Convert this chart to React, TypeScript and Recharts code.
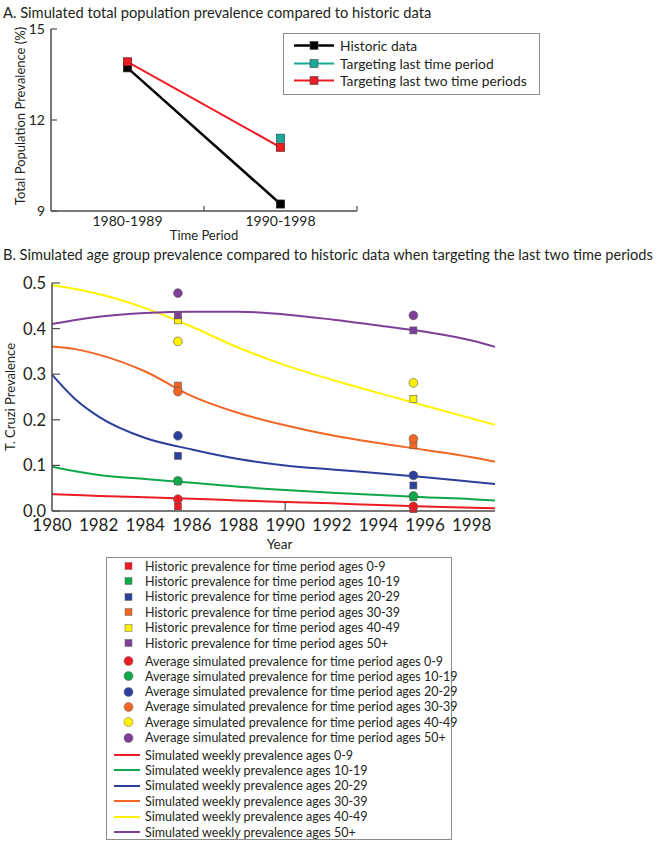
import { ComposedChart, LineChart, Line, Scatter, XAxis, YAxis } from "recharts";

const FONT = "Lato, 'Noto Sans', sans-serif";
const TEXT = "#231f20";
const AXIS = "#4d4d4d";

// panel A
const TOP_PERIODS = ["1980-1989", "1990-1998"];
const TOP_HISTORIC = [13.72, 9.23];
const TOP_LAST_ONE = [null, 11.4];
const TOP_LAST_TWO = [13.92, 11.1];
const TOP_Y_TICKS = [9, 12, 15];
const TOP_X_TICKS = [0.5, 1, 1.5, 2];

// panel B
const AGE_GROUPS = ["0-9", "10-19", "20-29", "30-39", "40-49", "50+"];
const AGE_COLORS = ["#ed1c24", "#0fa84a", "#2b3f9b", "#f26522", "#fff200", "#7d3f98"];
const PERIOD_YEARS = [1985.4, 1995.5];
const HISTORIC_PREV = [
  [0.01, 0.004],
  [0.065, 0.03],
  [0.121, 0.056],
  [0.275, 0.144],
  [0.418, 0.246],
  [0.429, 0.396],
];
const AVG_SIM_PREV = [
  [0.026, 0.01],
  [0.066, 0.033],
  [0.165, 0.078],
  [0.262, 0.158],
  [0.372, 0.281],
  [0.478, 0.429],
];
const WEEKLY_YEARS = [1980, 1981, 1982, 1984, 1986, 1988, 1990, 1992, 1994, 1996, 1998, 1999];
const WEEKLY_0_9 = [0.037, 0.035, 0.033, 0.03, 0.027, 0.023, 0.02, 0.017, 0.013, 0.01, 0.007, 0.006];
const WEEKLY_10_19 = [0.097, 0.087, 0.079, 0.07, 0.062, 0.053, 0.046, 0.04, 0.035, 0.03, 0.026, 0.023];
const WEEKLY_20_29 = [0.299, 0.245, 0.207, 0.16, 0.135, 0.114, 0.1, 0.091, 0.083, 0.074, 0.064, 0.059];
const WEEKLY_30_39 = [0.361, 0.355, 0.343, 0.306, 0.252, 0.215, 0.188, 0.166, 0.149, 0.134, 0.118, 0.108];
const WEEKLY_40_49 = [0.495, 0.487, 0.476, 0.445, 0.404, 0.358, 0.32, 0.288, 0.259, 0.231, 0.203, 0.189];
const WEEKLY_50_PLUS = [0.41, 0.419, 0.426, 0.434, 0.437, 0.437, 0.431, 0.42, 0.407, 0.393, 0.374, 0.36];
const WEEKLY = [WEEKLY_0_9, WEEKLY_10_19, WEEKLY_20_29, WEEKLY_30_39, WEEKLY_40_49, WEEKLY_50_PLUS];
const B_Y_TICKS = [0, 0.1, 0.2, 0.3, 0.4, 0.5];
const B_X_TICKS = [1980, 1982, 1984, 1986, 1988, 1990, 1992, 1994, 1996, 1998];
const B_X_MARKED = [1990];

const topRows = TOP_PERIODS.map((p, i) => ({
  x: i + 0.5,
  period: p,
  historic: TOP_HISTORIC[i],
  lastOne: TOP_LAST_ONE[i],
  lastTwo: TOP_LAST_TWO[i],
}));

function squareDot(fill: string, size: number, stroke: string) {
  return (props: any) => {
    const { cx, cy, index } = props;
    if (cx == null || cy == null || Number.isNaN(cy)) return <g key={`n-${index}`} />;
    return (
      <rect
        key={`d-${index}`}
        x={cx - size / 2}
        y={cy - size / 2}
        width={size}
        height={size}
        fill={fill}
        stroke={stroke}
        strokeWidth={0.8}
      />
    );
  };
}

function TopXTick({ x, y, payload }: any) {
  const v = payload.value;
  if (Number.isInteger(v)) {
    return <line x1={x} x2={x} y1={y} y2={y - 5} stroke={AXIS} strokeWidth={1.2} />;
  }
  return (
    <text x={x} y={y + 15} textAnchor="middle" fontSize={14} fill={TEXT} fontFamily={FONT}>
      {TOP_PERIODS[Math.floor(v)]}
    </text>
  );
}

function TopYTick({ x, y, payload }: any) {
  return (
    <g>
      <line x1={x} x2={x + 6} y1={y} y2={y} stroke={AXIS} strokeWidth={1.2} />
      <text x={x - 6} y={y + 5} textAnchor="end" fontSize={14} fill={TEXT} fontFamily={FONT}>
        {payload.value}
      </text>
    </g>
  );
}

function BXTick({ x, y, payload }: any) {
  return (
    <g>
      {B_X_MARKED.includes(payload.value) && (
        <line x1={x} x2={x} y1={y} y2={y - 9} stroke={AXIS} strokeWidth={1.2} />
      )}
      <text x={x} y={y + 20} textAnchor="middle" fontSize={17} fill={TEXT} fontFamily={FONT}>
        {payload.value}
      </text>
    </g>
  );
}

function BYTick({ x, y, payload }: any) {
  return (
    <g>
      <line x1={x} x2={x + 8} y1={y} y2={y} stroke={AXIS} strokeWidth={1.2} />
      <text x={x - 6} y={y + 6} textAnchor="end" fontSize={16.5} fill={TEXT} fontFamily={FONT}>
        {payload.value.toFixed(1)}
      </text>
    </g>
  );
}

const squareShape = (fill: string) => (props: any) => (
  <rect x={props.cx - 3.5} y={props.cy - 3.5} width={7} height={7} fill={fill} stroke="#555" strokeWidth={0.6} />
);
const circleShape = (fill: string) => (props: any) => (
  <circle cx={props.cx} cy={props.cy} r={4.4} fill={fill} stroke="#555" strokeWidth={0.6} />
);

function TopLegend() {
  const items = [
    { label: "Historic data", color: "#000", marker: "#000", width: 2.5 },
    { label: "Targeting last time period", color: "#1aa89a", marker: "#1aa89a", width: 2 },
    { label: "Targeting last two time periods", color: "#ed1c24", marker: "#ed1c24", width: 2 },
  ];
  return (
    <div
      style={{
        position: "absolute",
        left: 283,
        top: 33,
        width: 255,
        height: 60,
        border: "1px solid #8c8c8c",
        background: "#fff",
      }}
    >
      {items.map((it, i) => (
        <div key={it.label} style={{ position: "absolute", left: 0, top: 3 + i * 17.5, height: 17, display: "flex", alignItems: "center" }}>
          <svg width={56} height={17}>
            <line x1={10} x2={50} y1={8.5} y2={8.5} stroke={it.color} strokeWidth={it.width} />
            <rect x={26} y={4.5} width={8} height={8} fill={it.marker} stroke="#444" strokeWidth={0.6} />
          </svg>
          <span style={{ fontSize: 13.8, color: TEXT, fontFamily: FONT, whiteSpace: "nowrap" }}>{it.label}</span>
        </div>
      ))}
    </div>
  );
}

function BottomLegend() {
  const rows: { kind: string; color: string; label: string; top: number }[] = [];
  AGE_GROUPS.forEach((g, i) =>
    rows.push({ kind: "square", color: AGE_COLORS[i], label: `Historic prevalence for time period ages ${g}`, top: i * 15.45 })
  );
  AGE_GROUPS.forEach((g, i) =>
    rows.push({ kind: "circle", color: AGE_COLORS[i], label: `Average simulated prevalence for time period ages ${g}`, top: 95 + i * 15.3 })
  );
  AGE_GROUPS.forEach((g, i) =>
    rows.push({ kind: "line", color: AGE_COLORS[i], label: `Simulated weekly prevalence ages ${g}`, top: 189 + i * 15.4 })
  );
  return (
    <div
      style={{
        position: "absolute",
        left: 106,
        top: 557,
        width: 344,
        height: 281,
        border: "1px solid #8c8c8c",
        background: "#fff",
      }}
    >
      {rows.map((r) => (
        <div key={r.label} style={{ position: "absolute", left: 0, top: r.top, height: 16, display: "flex", alignItems: "center" }}>
          <svg width={38} height={16}>
            {r.kind === "square" && <rect x={18} y={4.5} width={7} height={7} fill={r.color} stroke="#666" strokeWidth={0.5} />}
            {r.kind === "circle" && <circle cx={21.5} cy={8} r={4.5} fill={r.color} stroke="#666" strokeWidth={0.5} />}
            {r.kind === "line" && <line x1={7} x2={33} y1={8} y2={8} stroke={r.color} strokeWidth={2} />}
          </svg>
          <span style={{ fontSize: 12.5, color: TEXT, fontFamily: FONT, whiteSpace: "nowrap" }}>{r.label}</span>
        </div>
      ))}
    </div>
  );
}

export default function App() {
  return (
    <div style={{ position: "absolute", left: 0, top: 0, width: 659, height: 843, background: "#fff", fontFamily: FONT }}>
      <div style={{ position: "absolute", left: 3, top: 3, fontSize: 14.7, color: TEXT, whiteSpace: "nowrap" }}>
        A. Simulated total population prevalence compared to historic data
      </div>

      <div style={{ position: "absolute", left: 0, top: 0 }}>
        <LineChart width={659} height={245} data={topRows} margin={{ top: 29, right: 302, bottom: 0, left: 0 }}>
          <XAxis
            dataKey="x"
            type="number"
            domain={[0, 2]}
            ticks={TOP_X_TICKS}
            tick={<TopXTick />}
            tickLine={false}
            tickSize={0}
            tickMargin={0}
            height={34}
            stroke={AXIS}
            strokeWidth={1.5}
            label={{
              content: ({ viewBox }: any) => (
                <text x={viewBox.x + viewBox.width / 2} y={viewBox.y + 29} textAnchor="middle" fontSize={13} fill={TEXT} fontFamily={FONT}>
                  Time Period
                </text>
              ),
            }}
          />
          <YAxis
            type="number"
            domain={[9, 15]}
            ticks={TOP_Y_TICKS}
            tick={<TopYTick />}
            tickLine={false}
            tickSize={0}
            tickMargin={0}
            width={51}
            stroke={AXIS}
            strokeWidth={1.5}
            label={{
              content: ({ viewBox }: any) => {
                const cy = viewBox.y + viewBox.height / 2 - 4;
                return (
                  <text x={25} y={cy} transform={`rotate(-90 25 ${cy})`} textAnchor="middle" fontSize={13} fill={TEXT} fontFamily={FONT}>
                    Total Population Prevalence (%)
                  </text>
                );
              },
            }}
          />
          <Line dataKey="historic" stroke="#000" strokeWidth={2.5} dot={squareDot("#000", 8, "#222")} isAnimationActive={false} />
          <Line dataKey="lastTwo" stroke="#ed1c24" strokeWidth={2} dot={squareDot("#ed1c24", 8, "#7a2020")} isAnimationActive={false} />
          <Line dataKey="lastOne" stroke="#1aa89a" strokeWidth={2} dot={squareDot("#1aa89a", 8, "#2c5f5a")} isAnimationActive={false} />
        </LineChart>
      </div>
      <TopLegend />

      <div style={{ position: "absolute", left: 3, top: 246, fontSize: 14.6, color: TEXT, whiteSpace: "nowrap" }}>
        B. Simulated age group prevalence compared to historic data when targeting the last two time periods
      </div>

      <div style={{ position: "absolute", left: 0, top: 265 }}>
        <ComposedChart width={659} height={290} margin={{ top: 18, right: 164, bottom: 0, left: 0 }}>
          <XAxis
            dataKey="year"
            type="number"
            domain={[1980, 1999]}
            ticks={B_X_TICKS}
            tick={<BXTick />}
            tickLine={false}
            tickSize={0}
            tickMargin={0}
            height={44}
            stroke={AXIS}
            strokeWidth={1.5}
            allowDuplicatedCategory={false}
            label={{
              content: ({ viewBox }: any) => (
                <text x={viewBox.x + viewBox.width / 2 + 6} y={viewBox.y + 38} textAnchor="middle" fontSize={13.5} fill={TEXT} fontFamily={FONT}>
                  Year
                </text>
              ),
            }}
          />
          <YAxis
            dataKey="v"
            type="number"
            domain={[0, 0.5]}
            ticks={B_Y_TICKS}
            tick={<BYTick />}
            tickLine={false}
            tickSize={0}
            tickMargin={0}
            width={52}
            stroke={AXIS}
            strokeWidth={1.5}
            label={{
              content: ({ viewBox }: any) => {
                const cy = viewBox.y + viewBox.height / 2;
                return (
                  <text x={15} y={cy} transform={`rotate(-90 15 ${cy})`} textAnchor="middle" fontSize={13} fill={TEXT} fontFamily={FONT}>
                    T. Cruzi Prevalence
                  </text>
                );
              },
            }}
          />
          {WEEKLY.map((vals, i) => (
            <Line
              key={`w-${i}`}
              data={WEEKLY_YEARS.map((yr, j) => ({ year: yr, v: vals[j] }))}
              dataKey="v"
              type="monotone"
              stroke={AGE_COLORS[i]}
              strokeWidth={2}
              dot={false}
              isAnimationActive={false}
            />
          ))}
          {HISTORIC_PREV.map((vals, i) => (
            <Scatter
              key={`h-${i}`}
              data={PERIOD_YEARS.map((yr, j) => ({ year: yr, v: vals[j] }))}
              dataKey="v"
              shape={squareShape(AGE_COLORS[i])}
              isAnimationActive={false}
            />
          ))}
          {AVG_SIM_PREV.map((vals, i) => (
            <Scatter
              key={`a-${i}`}
              data={PERIOD_YEARS.map((yr, j) => ({ year: yr, v: vals[j] }))}
              dataKey="v"
              shape={circleShape(AGE_COLORS[i])}
              isAnimationActive={false}
            />
          ))}
        </ComposedChart>
      </div>
      <BottomLegend />
    </div>
  );
}
